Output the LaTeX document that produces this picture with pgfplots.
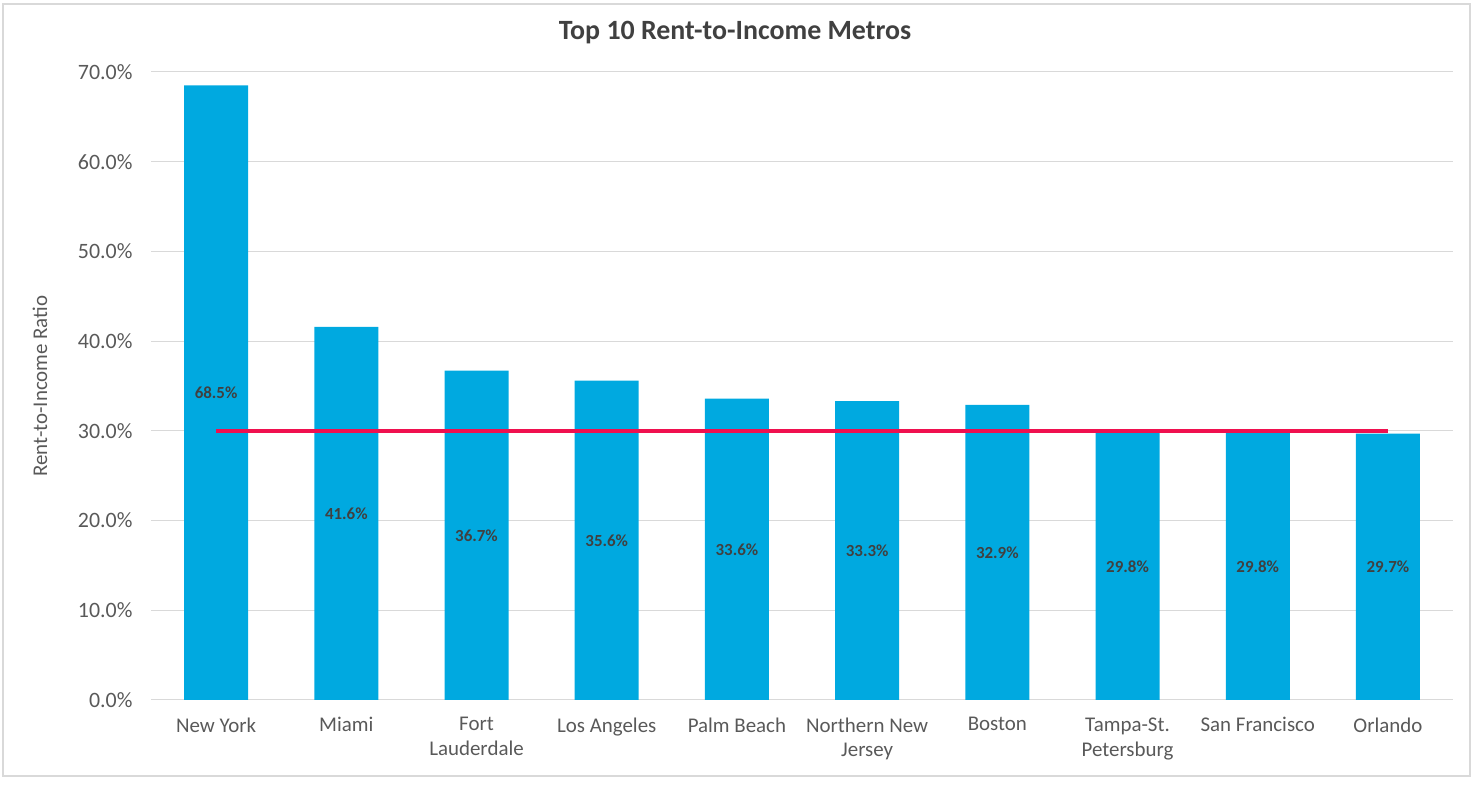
\documentclass[border=0pt]{standalone}
\usepackage{pgfplots}
\pgfplotsset{compat=1.18}
\usepackage{fontspec}
\setmainfont{Carlito}
\definecolor{barblue}{HTML}{00A9E0}
\definecolor{linered}{HTML}{F0104F}
\definecolor{txtgray}{HTML}{595959}
\definecolor{lblgray}{HTML}{404040}
\definecolor{gridgray}{HTML}{D9D9D9}

\begin{document}
\begin{tikzpicture}[x=1bp,y=1bp]
  \useasboundingbox (0,0) rectangle (1474,786);
  \draw[gridgray, line width=1.5bp] (3,10) rectangle (1470,782);
  \node[font=\fontsize{28}{32}\selectfont\bfseries, text=lblgray] at (735,753) {Top 10 Rent-to-Income Metros};
  \begin{axis}[
    at={(151bp,86bp)}, anchor=south west,
    scale only axis, width=1302bp, height=628bp,
    xmin=-0.5, xmax=9.5, ymin=0, ymax=70,
    xtick={0,...,9},
    xticklabels={New York, Miami, Fort\\Lauderdale, Los Angeles, Palm Beach,
      Northern New\\Jersey, Boston, Tampa-St.\\Petersburg, San Francisco, Orlando},
    ytick={0,10,...,70},
    yticklabel={\pgfmathprintnumber[fixed,fixed zerofill,precision=1]{\tick}\%},
    /pgf/number format/assume math mode=true,
    axis x line=bottom, axis y line=left,
    x axis line style={gridgray, line width=1bp, -},
    y axis line style={draw=none},
    major tick length=0pt,
    ymajorgrids, grid style={gridgray, line width=1bp},
    tick label style={text=txtgray},
    xticklabel style={align=center, anchor=north, yshift=-14bp,
      font=\fontsize{21}{25}\selectfont},
    yticklabel style={xshift=-15bp, font=\fontsize{22}{26}\selectfont},
    ylabel={Rent-to-Income Ratio},
    ylabel style={at={(axis description cs:-0.0853,0.5)}, anchor=center,
      text=txtgray, font=\fontsize{21}{24}\selectfont},
  ]
    \addplot[ybar, bar width=64bp, fill=barblue, draw=none,
      nodes near coords={\pgfmathprintnumber[fixed,fixed zerofill,precision=1]{\pgfplotspointmeta}\%},
      visualization depends on=y \as \rawy,
      every node near coord/.append style={anchor=center,
        shift={(axis direction cs:0,-\rawy/2)},
        font=\fontsize{17}{20}\selectfont\bfseries, text=lblgray}]
      coordinates {(0,68.5) (1,41.6) (2,36.7) (3,35.6) (4,33.6)
                   (5,33.3) (6,32.9) (7,29.8) (8,29.8) (9,29.7)};
    \addplot[linered, line width=3.5bp, sharp plot, no markers]
      coordinates {(0,30) (9,30)};
  \end{axis}
\end{tikzpicture}
\end{document}
